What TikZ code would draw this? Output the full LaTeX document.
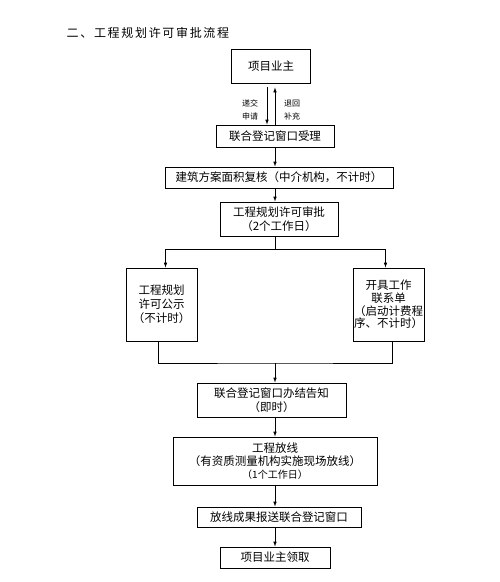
\documentclass[tikz,border=0pt]{standalone}
\usepackage{fontspec}
\setmainfont{Noto Sans CJK SC}
\newfontfamily\headfont[LetterSpace=14]{Noto Sans CJK SC}
\usetikzlibrary{arrows.meta}
\newcommand{\boxfont}{\fontsize{11.5}{14}\selectfont}
\newcommand{\notefont}{\fontsize{8}{13}\selectfont}

\begin{document}
\begin{tikzpicture}[x=1pt,y=-1pt,line width=0.7pt,
		>={Latex[length=5pt,width=3.6pt]},
		box/.style={draw,inner sep=0pt,align=center,font=\boxfont},
		note/.style={align=center,font=\notefont,inner sep=1pt}]
	\useasboundingbox (0,0) rectangle (499,582);

	% Heading of the section.
	\node[anchor=west,font=\headfont\fontsize{12}{14}\selectfont] (heading) at (63,33)
		{二、工程规划许可审批流程};

	% The applicant and the joint window, with the two way exchange.
	\node[box,minimum width=79pt,minimum height=34pt] (owner) at (271,66) {项目业主};
	\node[box,minimum width=118pt,minimum height=22pt] (window) at (275,136) {联合登记窗口受理};
	\draw[->] ([xshift=-4pt,yshift=-4pt]owner.south)
		-- ([xshift=-4pt]owner.south |- window.north);
	\draw[->] ([xshift=4pt]owner.south |- window.north)
		-- ([xshift=4pt,yshift=-4pt]owner.south);
	\node[note] (submit) at (250,110) {递交\\申请};
	\node[note] (return) at (292,110) {退回\\补充};

	% Main line down to the approval.
	\node[box,minimum width=228pt,minimum height=21pt] (check) at (279,177.5)
		{建筑方案面积复核（中介机构，不计时）};
	\node[box,minimum width=118pt,minimum height=34pt] (approve) at (279,219)
		{工程规划许可审批\\（2个工作日）};
	\draw[->] (window.south) -- (window.south |- check.north);
	\draw[->] (window.south |- check.south) -- (window.south |- approve.north);

	% Two parallel branches after the approval.
	\node[box,minimum width=71pt,minimum height=73pt] (notice) at (161.5,304.5)
		{工程规划\\许可公示\\（不计时）};
	\node[box,minimum width=71pt,minimum height=73pt,font=\fontsize{11.5}{12.8}\selectfont]
		(letter) at (388.5,304.5) {开具工作\\联系单\\（启动计费程\\序、不计时）};
	\coordinate (split) at (275,249);
	\coordinate (join) at (275,363);
	\draw (window.south |- approve.south) -- (split);
	\draw[->] (split) -| ([xshift=4pt]notice.north);
	\draw[->] (split) -| ([xshift=-3pt]letter.north);
	\draw ([xshift=-3pt]notice.south) |- (join) -| ([xshift=4pt]letter.south);

	% Closing steps.
	\node[box,minimum width=149pt,minimum height=34pt] (close) at (271.5,400)
		{联合登记窗口办结告知\\（即时）};
	\node[box,minimum width=204pt,minimum height=48pt,font=\fontsize{11.5}{13}\selectfont]
		(stake) at (275,461)
		{工程放线\\（有资质测量机构实施现场放线）\\{\fontsize{10}{13}\selectfont（1个工作日）}};
	\node[box,minimum width=164pt,minimum height=20pt] (report) at (279,517)
		{放线成果报送联合登记窗口};
	\node[box,minimum width=110pt,minimum height=21pt] (collect) at (275,557.5)
		{项目业主领取};
	\draw[->] (join) -- (join |- close.north);
	\draw[->] (join |- close.south) -- (join |- stake.north);
	\draw[->] (join |- stake.south) -- (join |- report.north);
	\draw[->] (join |- report.south) -- (join |- collect.north);
\end{tikzpicture}
\end{document}
